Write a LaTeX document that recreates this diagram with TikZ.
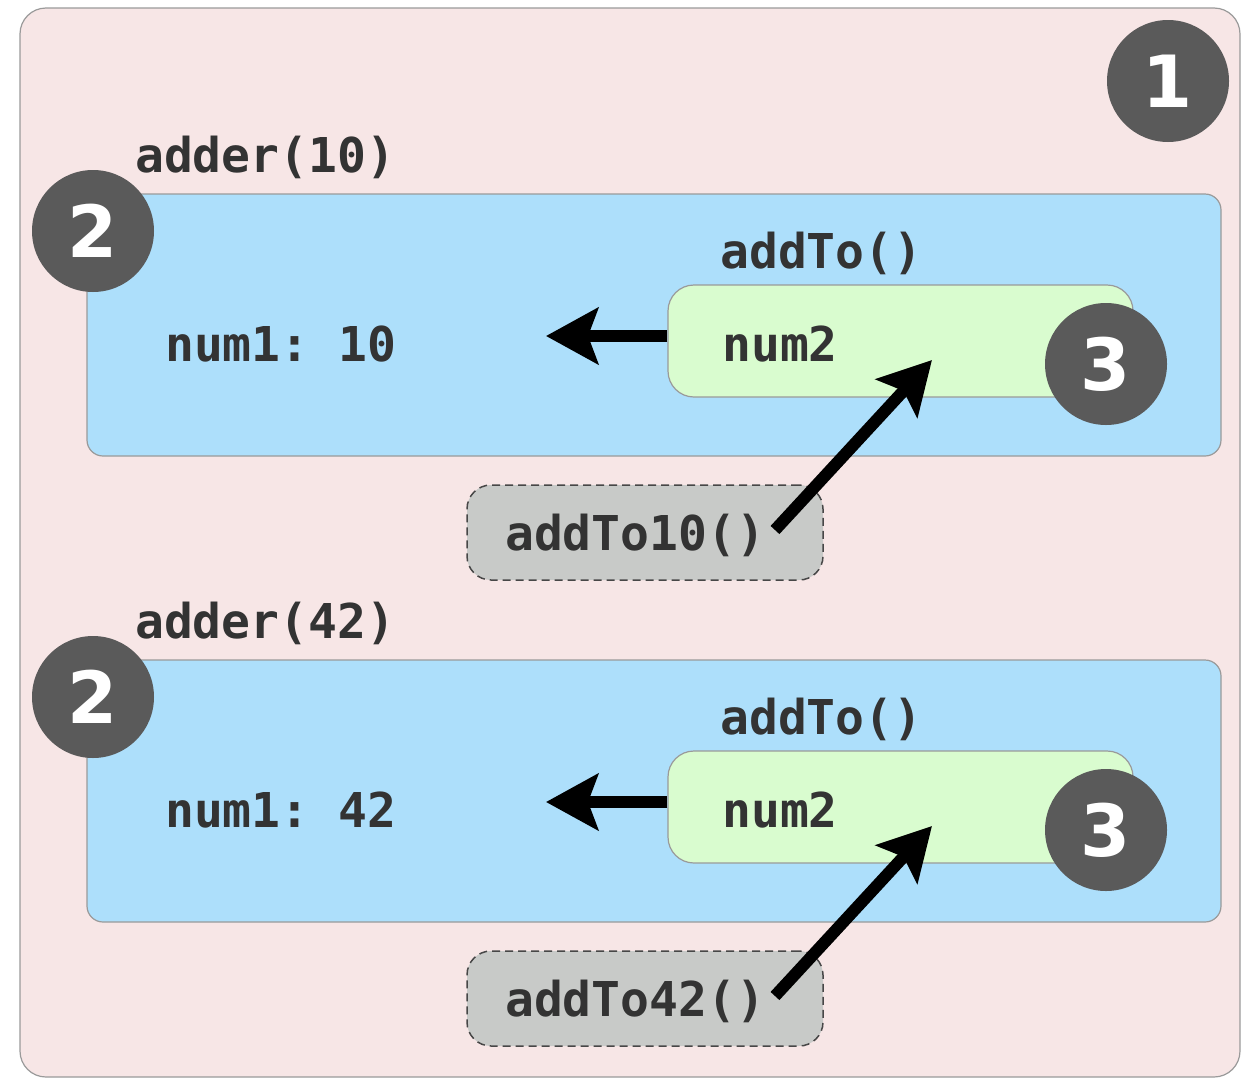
\documentclass[tikz,border=0pt]{standalone}
\usepackage{fontspec}
\setmonofont{DejaVu Sans Mono}
\newfontfamily\badgefont{DejaVu Sans}
\usetikzlibrary{shapes.geometric, arrows.meta, positioning}

\definecolor{pinkbg}{HTML}{F7E6E6}
\definecolor{bluebg}{HTML}{ADDFFB}
\definecolor{greenbg}{HTML}{D9FCCF}
\definecolor{graybg}{HTML}{C8CAC8}
\definecolor{badgegray}{HTML}{5A5A5A}
\definecolor{codegray}{HTML}{333333}
\definecolor{edgegray}{HTML}{9A9A9A}

\tikzstyle{outerbox} = [rectangle, rounded corners=26pt, minimum width=1220pt, minimum height=1069pt, draw=edgegray, line width=1.2pt, fill=pinkbg]
\tikzstyle{scopebox} = [rectangle, rounded corners=16pt, minimum width=1134pt, minimum height=262pt, draw=edgegray, line width=1.2pt, fill=bluebg]
\tikzstyle{closurebox} = [rectangle, rounded corners=26pt, minimum width=465pt, minimum height=112pt, draw=edgegray, line width=1.2pt, fill=greenbg]
\tikzstyle{refbox} = [rectangle, rounded corners=24pt, minimum width=356pt, minimum height=95pt, draw=codegray!90, dashed, dash pattern=on 8pt off 5pt, line width=1.5pt, fill=graybg]
\tikzstyle{badge} = [circle, minimum size=122pt, inner sep=0pt, fill=badgegray, text=white, font=\badgefont\bfseries\fontsize{72}{72}\selectfont]
\tikzstyle{code} = [inner sep=0pt, anchor=base west, text=codegray, font=\ttfamily\bfseries\fontsize{48}{52}\selectfont]
\tikzstyle{arrow} = [line width=12pt, -{Stealth[length=52pt, width=56pt, inset=10pt]}]

\begin{document}
\begin{tikzpicture}[x=1pt, y=-1pt]
\useasboundingbox (0,0) rectangle (1258,1090);

% Outer scope
\node (global) [outerbox] at (630,542.5) {};
\node (badgeA) [badge] at (1168,81) {1};

% Group 1 - adder(10)
\node (scope10) [scopebox] at (654,325) {};
\node (adder10) [code] at (135,172) {adder(10)};
\node (badge10) [badge] at (93,231) {2};
\node (numA) [code] at (165,361) {num1: 10};
\node (addToA) [code] at (720,268) {addTo()};
\node (inner10) [closurebox] at (900.5,341) {};
\node (numB) [code] at (722,361) {num2};
\node (badgeB) [badge] at (1106,364) {3};
\node (ref10) [refbox] at (645,532.5) {};
\node (call10) [code] at (505,550) {addTo10()};
\coordinate (tail10) at (775,530);
\coordinate (head10) at (932,360);
\coordinate (num1At10) at (546,336);

% Group 2 - adder(42)
\node (scope42) [scopebox] at (654,791) {};
\node (adder42) [code] at (135,638) {adder(42)};
\node (badge42) [badge] at (93,697) {2};
\node (numC) [code] at (165,827) {num1: 42};
\node (addToB) [code] at (720,734) {addTo()};
\node (inner42) [closurebox] at (900.5,807) {};
\node (numD) [code] at (722,827) {num2};
\node (badgeC) [badge] at (1106,830) {3};
\node (ref42) [refbox] at (645,998.5) {};
\node (call42) [code] at (505,1016) {addTo42()};
\coordinate (tail42) at (775,996);
\coordinate (head42) at (932,826);
\coordinate (num1At42) at (546,802);

% Arrows
\draw [arrow] (inner10.west |- num1At10) -- (num1At10);
\draw [arrow] (tail10) -- (head10);
\draw [arrow] (inner42.west |- num1At42) -- (num1At42);
\draw [arrow] (tail42) -- (head42);

\end{tikzpicture}
\end{document}
